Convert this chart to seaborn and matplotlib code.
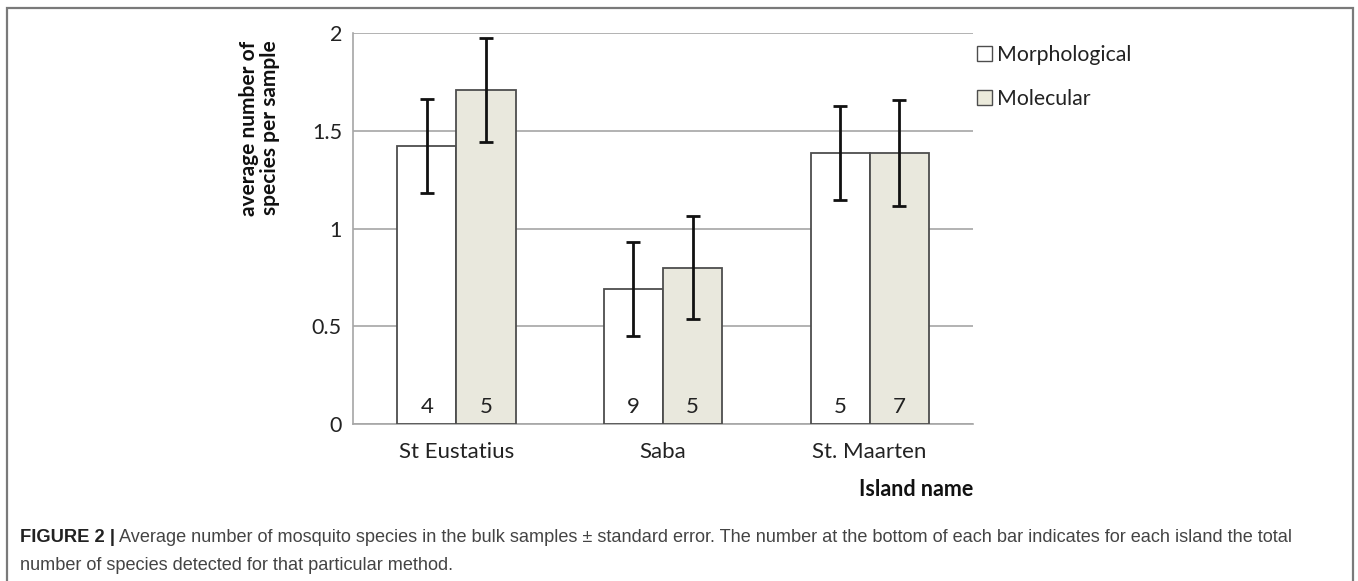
"""
Average mosquito species per bulk sample, per island and method.
"""

import numpy as np
import pandas as pd
import matplotlib
matplotlib.use("Agg")
import matplotlib.pyplot as plt
from matplotlib.patches import Rectangle, Patch
import seaborn as sns

islands = ["St Eustatius", "Saba", "St. Maarten"]
methods = ["Morphological", "Molecular"]
morph_mean = [1.42, 0.69, 1.385]
morph_se = [0.24, 0.24, 0.24]
mol_mean = [1.71, 0.80, 1.385]
mol_se = [0.265, 0.265, 0.27]
morph_total = [4, 9, 5]
mol_total = [5, 5, 7]

df = pd.DataFrame({
    "island": islands * 2,
    "method": [methods[0]] * 3 + [methods[1]] * 3,
    "mean": morph_mean + mol_mean,
    "se": morph_se + mol_se,
    "total": morph_total + mol_total,
})

sns.set_style("white")
plt.rcParams["font.family"] = ["Lato", "DejaVu Sans"]

fill = {"Morphological": "#ffffff", "Molecular": "#ebeadb"}
edge = "#4d4d4d"
grid_c = "#a6a6a6"

fig = plt.figure(figsize=(13.58, 5.81), dpi=100)
ax = fig.add_axes([0.26, 0.2702, 0.4565, 0.673])

sns.barplot(data=df, x="island", y="mean", hue="method", order=islands,
            hue_order=methods, palette=fill, width=0.572, gap=0,
            edgecolor=edge, linewidth=1.3, legend=False, errorbar=None,
            ax=ax, zorder=3)

# error bars and totals at the foot of each bar
for cont, m in zip(ax.containers, methods):
    sub = df[df["method"] == m].set_index("island").loc[islands]
    xs = [p.get_x() + p.get_width() / 2 for p in cont.patches]
    ax.errorbar(xs, sub["mean"], yerr=sub["se"], fmt="none", ecolor="#111111",
                elinewidth=2, capsize=5, capthick=2, zorder=4)
    for x, t in zip(xs, sub["total"]):
        ax.text(x, 0.035, str(t), ha="center", va="bottom", fontsize=16,
                color="#222222", zorder=5)

ax.set_ylim(0, 2)
ax.set_xlim(-0.5, 2.5)
ax.set_yticks([0, 0.5, 1, 1.5, 2])
ax.set_yticklabels(["0", "0.5", "1", "1.5", "2"])
ax.yaxis.grid(True, color=grid_c, linewidth=1.2, zorder=0)
ax.set_axisbelow(True)
for s in ["top", "right"]:
    ax.spines[s].set_visible(False)
for s in ["left", "bottom"]:
    ax.spines[s].set_color(grid_c)
    ax.spines[s].set_linewidth(1.2)
ax.tick_params(axis="both", length=0, colors="#222222")
ax.tick_params(axis="x", pad=13, labelsize=16)
ax.tick_params(axis="y", pad=8, labelsize=15.5)

ax.set_ylabel("average number of\nspecies per sample", fontsize=15,
              fontweight="bold", color="#111111", linespacing=1.05)
ax.yaxis.set_label_coords(-0.118, 0.757)
ax.set_xlabel("Island name", fontsize=15.5, fontweight="bold", color="#111111")
ax.xaxis.set_label_coords(1.0, -0.14)
ax.xaxis.label.set_horizontalalignment("right")

handles = [Patch(facecolor=fill[m], edgecolor=edge, linewidth=1) for m in methods]
ax.legend(handles, methods, loc="upper left", bbox_to_anchor=(0.982, 1.008),
          frameon=False, fontsize=15.3, handlelength=0.7, handleheight=0.7,
          handletextpad=0.25, labelspacing=1.15, borderpad=0.2,
          labelcolor="#222222")

# figure frame and caption
fig.add_artist(Rectangle((7 / 1358, -0.02), 1346 / 1358, 1 - 8 / 581 + 0.02,
                         transform=fig.transFigure, fill=False,
                         edgecolor="#7a7a7a", linewidth=1.6))
cap = ["Liberation Sans", "DejaVu Sans"]
lead = fig.text(20 / 1358, 1 - 538 / 581, "FIGURE 2 |", family=cap,
                fontsize=13.2, fontweight="bold", color="#222222", va="center")
ax.annotate(" Average number of mosquito species in the bulk samples \u00b1 standard error. "
            "The number at the bottom of each bar indicates for each island the total",
            xy=(1, 0.5), xycoords=lead, va="center", ha="left", family=cap,
            fontsize=13.1, color="#444444", annotation_clip=False)
fig.text(20 / 1358, 1 - 566 / 581, "number of species detected for that particular method.",
         family=cap, fontsize=13.1, color="#444444", va="center")

plt.savefig("out.png", dpi=100)
